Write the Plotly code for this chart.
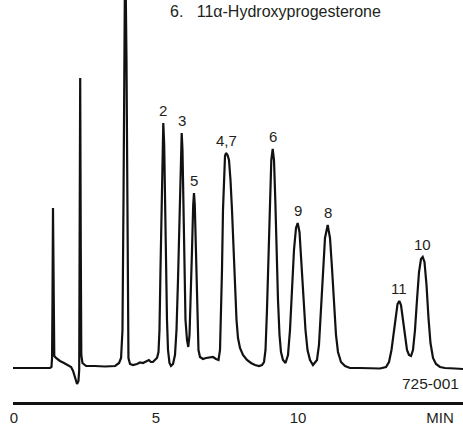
import plotly.graph_objects as go

# Chromatogram trace: time (min) and detector signal (arbitrary units above baseline)
time_min = [
    -0.04, 1.27, 1.32, 1.34, 1.356, 1.373, 1.401, 1.419, 1.48, 1.62, 1.76, 1.90, 2.01, 2.08, 2.15, 2.22, 2.27,
    2.296, 2.310, 2.331, 2.352, 2.370, 2.41, 2.54, 2.85, 3.20, 3.56, 3.70, 3.77, 3.82, 3.856, 3.873, 3.915,
    3.961, 3.996, 4.03, 4.085, 4.19, 4.33, 4.44, 4.54, 4.65, 4.75, 4.82, 4.89, 4.96, 5.035,
    5.088, 5.123, 5.158, 5.194, 5.229, 5.257, 5.289, 5.317, 5.352, 5.387, 5.423, 5.475, 5.528, 5.599,
    5.669, 5.722, 5.775, 5.827, 5.873, 5.905, 5.933, 5.961, 5.996, 6.039, 6.092, 6.137,
    6.180, 6.225, 6.268, 6.310, 6.338, 6.366, 6.408, 6.454, 6.496, 6.549, 6.655, 6.761, 6.901, 7.007, 7.113, 7.201,
    7.254, 7.289, 7.324, 7.359, 7.394, 7.430, 7.465, 7.518, 7.570, 7.623, 7.676, 7.729, 7.782, 7.835, 7.887,
    7.958, 8.063, 8.204, 8.345, 8.486, 8.627, 8.732, 8.803,
    8.856, 8.908, 8.961, 9.014, 9.060, 9.109, 9.155, 9.201, 9.243, 9.296, 9.349, 9.401, 9.472, 9.560,
    9.648, 9.718, 9.789, 9.859, 9.930, 9.989, 10.053, 10.123, 10.194, 10.264, 10.335, 10.423, 10.528,
    10.669, 10.739, 10.810, 10.880, 10.951, 11.046, 11.127, 11.197, 11.268, 11.338, 11.408, 11.514, 11.655,
    11.831, 12.183, 12.535, 12.887, 13.099,
    13.204, 13.292, 13.363, 13.433, 13.504, 13.567, 13.627, 13.697, 13.768, 13.838, 13.908, 13.979,
    14.049, 14.120, 14.190, 14.261, 14.331, 14.391, 14.454, 14.525, 14.595, 14.665, 14.754, 14.859, 15.000,
    15.176, 15.528, 15.810,
]
signal = [
    0, 0, 1, 10, 68, 160, 68, 12, 10, 7, 5, 3, 1, -3, -10, -16, -13,
    -2, 118, 290, 118, 13, 5, 2, 2, 1.5, 2, 5, 10, 38, 168, 308, 428,
    308, 68, 10, 4, 3, 4, 5.5, 5, 7, 8, 6, 6, 8, 10,
    16, 38, 98, 168, 223, 245, 223, 168, 113, 48, 18, 5, 2, 4,
    13, 38, 88, 158, 218, 235, 218, 158, 88, 48, 28, 21,
    33, 68, 118, 163, 175, 163, 108, 48, 18, 11, 9, 10, 11, 11, 9, 8,
    18, 48, 98, 158, 198, 212, 215, 213, 208, 188, 158, 118, 78, 48, 30,
    20, 13, 8, 5, 3, 2, 3, 6,
    18, 58, 118, 178, 208, 219, 208, 168, 118, 68, 33, 16, 8, 5,
    13, 38, 78, 118, 140, 145, 136, 103, 68, 38, 18, 8, 3,
    8, 23, 58, 98, 130, 143, 130, 100, 63, 33, 16, 6, 2,
    0, 0, -0.5, -0.5, 1,
    6, 18, 35, 53, 64, 67, 63, 48, 30, 18, 13, 12,
    18, 38, 68, 96, 109, 111, 106, 83, 50, 25, 10, 4, 1,
    0, -0.5, -1,
]

# Peak labels and apex positions
peak_labels = ["2", "3", "5", "4,7", "6", "9", "8", "11", "10"]
peak_times = [5.257, 5.905, 6.338, 7.465, 9.109, 9.989, 11.046, 13.567, 14.391]
peak_heights = [245, 235, 175, 215, 219, 145, 143, 67, 111]

tick_values = [0, 5, 10, 15]
tick_labels = ["0", "5", "10", "MIN"]

FONT = "Liberation Sans, Arial, sans-serif"
TXT = "#231f20"

W, H = 463, 428
ML, MR, MT, MB = 13, 0, 0, 26
PW, PH = W - ML - MR, H - MT - MB

fig = go.Figure()
fig.add_trace(go.Scatter(
    x=time_min, y=signal, mode="lines",
    line=dict(color="#111111", width=2.2),
    hoverinfo="skip", showlegend=False,
))

for lab, t, h in zip(peak_labels, peak_times, peak_heights):
    fig.add_annotation(x=t, y=h, text=lab, showarrow=False,
                       yanchor="middle", yshift=13,
                       font=dict(family=FONT, size=15, color=TXT))

def px_to_paper(xp, yp):
    return (xp - ML) / PW, (H - MB - yp) / PH

x1, y1 = px_to_paper(461, 383)
fig.add_annotation(x=x1, y=y1, xref="paper", yref="paper", text="725-001",
                   showarrow=False, xanchor="right", yanchor="middle",
                   font=dict(family=FONT, size=15.5, color=TXT))
x2, y2 = px_to_paper(168, 11)
fig.add_annotation(x=x2, y=y2, xref="paper", yref="paper",
                   text="6.\u00a0\u00a0 11\u03b1-Hydroxyprogesterone",
                   showarrow=False, xanchor="left", yanchor="middle",
                   font=dict(family=FONT, size=16, color=TXT))

fig.update_layout(
    width=W, height=H,
    margin=dict(l=ML, r=MR, t=MT, b=MB, pad=0),
    paper_bgcolor="white", plot_bgcolor="white",
    xaxis=dict(range=[-0.035, 15.81], showgrid=False, zeroline=False,
               showline=True, linecolor="#111111", linewidth=2.5,
               ticks="", tickvals=tick_values, ticktext=tick_labels,
               tickfont=dict(family=FONT, size=15, color=TXT)),
    yaxis=dict(range=[-34, 368], visible=False, showgrid=False, zeroline=False),
    font=dict(family=FONT, size=15, color=TXT),
)

fig.write_html("out.html", config={"displayModeBar": False, "staticPlot": True},
               post_script="document.body.style.margin='0px';document.body.style.overflow='hidden';")
